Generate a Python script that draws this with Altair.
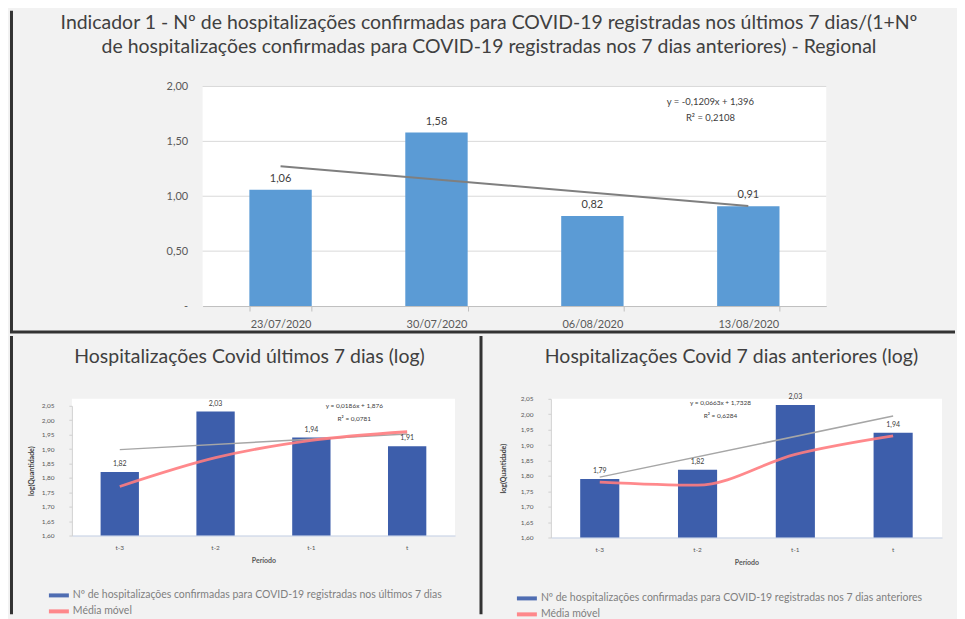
import json
import altair as alt
import pandas as pd

FONT = "Lato"
TXT = "#404040"
AXC = "#595959"
DARK = "#333333"
BLUE_TOP = "#5b9bd5"
BLUE = "#3d5eab"
RED = "#ff7c80"

# ---------------- data ----------------
top_title = [
    "Indicador 1 - Nº de hospitalizações confirmadas para COVID-19 registradas nos últimos 7 dias/(1+Nº",
    "de hospitalizações confirmadas para COVID-19 registradas nos 7 dias anteriores) - Regional",
]
top_dates = ["23/07/2020", "30/07/2020", "06/08/2020", "13/08/2020"]
top_values = [1.06, 1.58, 0.82, 0.91]
top_eq = ["y = -0,1209x + 1,396", "R² = 0,2108"]

periods = ["t-3", "t-2", "t-1", "t"]

title_last7 = "Hospitalizações Covid últimos 7 dias (log)"
series_last7 = "Nº de hospitalizações confirmadas para COVID-19 registradas nos últimos 7 dias"
last7_values = [1.82, 2.03, 1.94, 1.91]
last7_ma = [1.77, 1.87, 1.93, 1.96]
last7_eq = ["y = 0,0186x + 1,876", "R² = 0,0781"]

title_prev7 = "Hospitalizações Covid 7 dias anteriores (log)"
series_prev7 = "Nº de hospitalizações confirmadas para COVID-19 registradas nos 7 dias anteriores"
prev7_values = [1.79, 1.82, 2.03, 1.94]
prev7_ma = [1.78, 1.77, 1.87, 1.93]
prev7_eq = ["y = 0,0663x + 1,7328", "R² = 0,6284"]

series_ma = "Média móvel"
log_ticks = [1.60, 1.65, 1.70, 1.75, 1.80, 1.85, 1.90, 1.95, 2.00, 2.05]
top_ticks = [0, 0.5, 1.0, 1.5, 2.0]

NUM_LABEL = "replace(format(datum.value, '.2f'), '.', ',')"


def fmt(field):
    return f"replace(format(datum.{field}, '.2f'), '.', ',')"


one_row = pd.DataFrame({"k": [0]})


def rule(x, y, x2=None, y2=None, visible=True, width=3):
    enc = {"x": alt.value(x), "y": alt.value(y)}
    if x2 is not None:
        enc["x2"] = alt.value(x2)
    if y2 is not None:
        enc["y2"] = alt.value(y2)
    return alt.Chart(one_row).mark_rule(
        color=DARK, strokeWidth=width, strokeOpacity=1 if visible else 0
    ).encode(**enc)


def title_text(text, x, y, size):
    return alt.Chart(pd.DataFrame({"t": [text]})).mark_text(
        fontSize=size, color=TXT, font=FONT, align="center", baseline="middle"
    ).encode(x=alt.value(x), y=alt.value(y), text="t:N")


# ---------------- top chart (origin aligned with bottom-left plot) ----------------
TW, TH = 756, 220
PL = 131  # left edge of the top plot inside its view
top_df = pd.DataFrame({"data": top_dates, "valor": top_values,
                       "idx": list(range(1, len(top_dates) + 1))})

x_top = alt.X("data:N", sort=top_dates, title=None,
              scale=alt.Scale(paddingInner=0.6, paddingOuter=0.3, range=[PL, TW]),
              axis=alt.Axis(labelAngle=0, labelFontSize=11, labelColor=AXC, labelPadding=8,
                            domainColor="#bfbfbf", tickColor="#bfbfbf", tickBand="extent",
                            tickSize=5, grid=False))
y_top = alt.Y("valor:Q", title=None, scale=alt.Scale(domain=[0, 2], nice=False),
              axis=alt.Axis(values=top_ticks, tickCount=5, offset=-PL,
                            labelExpr="datum.value == 0 ? '-' : " + NUM_LABEL,
                            domain=False, ticks=False, grid=False,
                            labelFontSize=11, labelColor=AXC, labelPadding=15,
                            labelOverlap=False))

base_top = alt.Chart(top_df)
top_bg = alt.Chart(one_row).mark_rect(color="white").encode(
    x=alt.value(PL), x2=alt.value(TW), y=alt.value(0), y2=alt.value(TH))
top_grid = alt.Chart(pd.DataFrame({"v": top_ticks[1:]})).mark_rule(
    color="#d9d9d9", strokeWidth=1).encode(
    y=alt.Y("v:Q", scale=alt.Scale(domain=[0, 2], nice=False)),
    x=alt.value(PL), x2=alt.value(TW))
top_bars = base_top.mark_bar(color=BLUE_TOP).encode(x=x_top, y=y_top)
top_labels = base_top.transform_calculate(rotulo=fmt("valor")).mark_text(
    dy=-11, fontSize=11, color=TXT).encode(x=x_top, y=y_top, text="rotulo:N")
top_trend = base_top.transform_regression("idx", "valor").transform_calculate(
    data=f"{json.dumps(top_dates)}[round(datum.idx) - 1]"
).mark_line(color="#7f7f7f", strokeWidth=2).encode(x=x_top, y=y_top)
top_eq_text = alt.Chart(pd.DataFrame({"texto": ["\n".join(top_eq)]})).mark_text(
    lineBreak="\n", fontSize=9.5, color=TXT, dx=-38, lineHeight=16, baseline="top"
).encode(x=alt.datum(top_dates[-1]), y=alt.datum(1.90), text="texto:N")

top = alt.layer(
    top_bg, top_grid, top_bars, top_trend, top_labels, top_eq_text,
    title_text(top_title[0], 418, -64, 19.5),
    title_text(top_title[1], 418, -40, 19.5),
    rule(-62, 246, x2=885),
    rule(-60.5, -76, y2=246),
).properties(width=TW, height=TH, view=alt.ViewBackground(fill=None, stroke=None))


# ---------------- bottom panels ----------------
def panel(values, ma, eq, title, series, width, height, top_gap, title_x, title_y,
          eq_at, eq_dx, eq_y, ytitle_pad, legend_x, legend_y, rules):
    df = pd.DataFrame({"periodo": periods, "valor": values,
                       "idx": list(range(1, len(periods) + 1)), "serie": series})
    ma_df = pd.DataFrame({"periodo": periods, "valor": ma, "serie": series_ma})
    color = alt.Color(
        "serie:N",
        scale=alt.Scale(domain=[series, series_ma], range=[BLUE, RED]),
        legend=alt.Legend(title=None, orient="none", legendX=legend_x, legendY=legend_y,
                          direction="vertical", symbolType="M-1,-0.2H1V0.2H-1Z",
                          symbolSize=400, symbolStrokeWidth=0, labelFontSize=10.5,
                          labelColor="#7f7f7f", labelLimit=600, rowPadding=0,
                          labelOffset=4),
    )
    x = alt.X("periodo:N", sort=periods, title="Período",
              scale=alt.Scale(paddingInner=0.6, paddingOuter=0.3),
              axis=alt.Axis(labelAngle=0, labelFontSize=6.5, labelColor=AXC, labelPadding=9,
                            ticks=False, domainColor="#c5d0e6", titleFontSize=7,
                            titleFontWeight="bold", titleColor=AXC, titlePadding=6))
    y = alt.Y("valor:Q", title="log(Quantidade)",
              scale=alt.Scale(domain=[1.6, 2.05], nice=False, zero=False,
                              range=[height, top_gap]),
              axis=alt.Axis(values=log_ticks, tickCount=10, labelExpr=NUM_LABEL, grid=False,
                            labelOverlap=False,
                            domainColor="#d0d0d0", tickColor="#d0d0d0", tickSize=3,
                            labelFontSize=6.5, labelColor=AXC, labelPadding=15,
                            minExtent=31, maxExtent=31, titleFontSize=7,
                            titleFontWeight="bold", titleColor=TXT,
                            titlePadding=ytitle_pad))
    bars = alt.Chart(df).mark_bar().encode(x=x, y=y, y2=alt.datum(1.6), color=color)
    trend = alt.Chart(df).transform_regression("idx", "valor").transform_calculate(
        periodo=f"{json.dumps(periods)}[round(datum.idx) - 1]"
    ).mark_line(color="#a6a6a6", strokeWidth=1.5).encode(x=x, y=y)
    ma_line = alt.Chart(ma_df).mark_line(strokeWidth=2.8, interpolate="monotone",
                                         opacity=0.9).encode(x=x, y=y, color=color)
    labels = alt.Chart(df).transform_calculate(rotulo=fmt("valor")).mark_text(
        dy=-8, fontSize=7, color=TXT).encode(x=x, y=y, text="rotulo:N")
    eq_text = alt.Chart(pd.DataFrame({"texto": ["\n".join(eq)]})).mark_text(
        lineBreak="\n", fontSize=6.5, color=TXT, dx=eq_dx, lineHeight=13, baseline="top"
    ).encode(x=alt.datum(eq_at), y=alt.datum(eq_y), text="texto:N")
    layers = [bars, trend, ma_line, labels, eq_text,
              title_text(title, title_x, title_y, 19.5)] + rules
    return alt.layer(*layers).properties(width=width, height=height)


left = panel(last7_values, last7_ma, last7_eq, title_last7, series_last7,
             width=384, height=137, top_gap=7, title_x=178, title_y=-42,
             eq_at=periods[2], eq_dx=43, eq_y=2.06, ytitle_pad=6.5,
             legend_x=-23, legend_y=187,
             rules=[rule(-60.5, -63, y2=216), rule(410, -63, y2=216)])

right = panel(prev7_values, prev7_ma, prev7_eq, title_prev7, series_prev7,
              width=392, height=139, top_gap=0, title_x=181, title_y=-42,
              eq_at=periods[1], eq_dx=23, eq_y=2.047, ytitle_pad=13.5,
              legend_x=-34, legend_y=190,
              rules=[rule(-68, -63, y2=216, visible=False, width=1)])

bottom = alt.concat(left, right, columns=2, spacing=0).resolve_scale(
    color="independent", x="independent", y="independent")

chart = alt.concat(top, bottom, columns=1, spacing=0).resolve_scale(
    color="independent", x="independent", y="independent"
).properties(padding=0, background="#f2f2f2").configure(font=FONT).configure_view(
    stroke=None, fill="white")

chart.save("out.html", embed_options={"renderer": "svg", "actions": False})
